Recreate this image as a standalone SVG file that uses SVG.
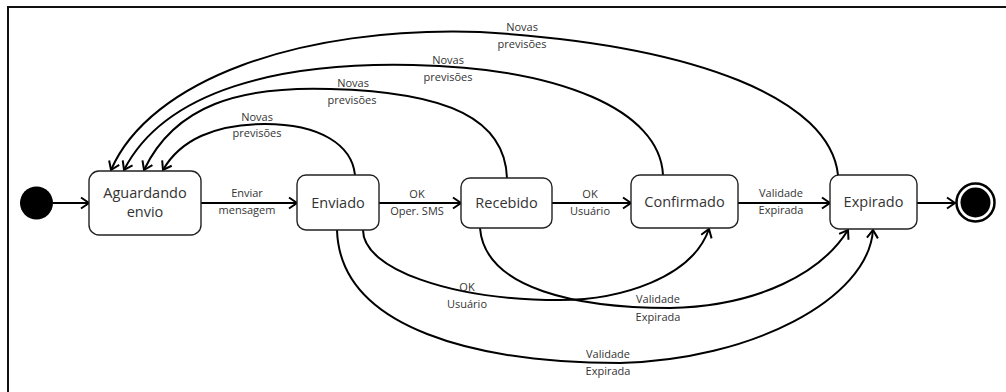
<svg xmlns="http://www.w3.org/2000/svg" width="1006" height="392" viewBox="0 0 1006 392">
  <defs>
    <marker id="open" viewBox="-10 -7 12 14" refX="0" refY="0" markerWidth="12" markerHeight="14" markerUnits="userSpaceOnUse" orient="auto">
      <path d="M-8,-5.5 L0,0 L-8,5.5" fill="none" stroke="#000" stroke-width="2" stroke-linejoin="miter"/>
    </marker>
    <style>
      .frame { fill: #fff; stroke: #111; stroke-width: 2; }
      .state { fill: #fff; stroke: #222; stroke-width: 1.4; }
      .name { font-family: "Open Sans", "Noto Sans", sans-serif; font-size: 14.5px; fill: #333; text-anchor: middle; }
      .edge { fill: none; stroke: #000; stroke-width: 2; marker-end: url(#open); }
      .lbl { font-family: "Open Sans", "Noto Sans", sans-serif; font-size: 11px; fill: #333; text-anchor: middle; }
    </style>
  </defs>

  <!-- frame -->
  <rect class="frame" x="8" y="7" width="1010" height="400"/>

  <!-- connectors -->
  <g id="connectors">
    <path class="edge" d="M53,203 L89,203"/>
    <path class="edge" d="M201,203 L297,203"/>
    <path class="edge" d="M379,203 L461,203"/>
    <path class="edge" d="M552,203 L631,203"/>
    <path class="edge" d="M738,203 L830,203"/>
    <path class="edge" d="M917,203 L955,203"/>

    <!-- Novas previsões: back to Aguardando envio -->
    <path class="edge" d="M355,175 C352,145 320,124 265,124 C215,124 180,140 163,170"/>
    <path class="edge" d="M507,178 C505,120 450,92 330,89 C240,86 175,105 144,170"/>
    <path class="edge" d="M663,175 C660,110 560,68 413,65 C280,62 165,90 124,170"/>
    <path class="edge" d="M838,175 C830,100 700,45 480,32 C300,26 150,80 111,170"/>

    <!-- lower transitions -->
    <path class="edge" d="M363,230 C363,269 451,300 560,300 C620,300 692,278 709,229"/>
    <path class="edge" d="M480,228 C485,290 580,308 670,308 C760,306 822,272 848,230"/>
    <path class="edge" d="M337,230 C340,330 480,363 620,363 C750,360 868,300 873,230"/>

    <!-- labels -->
    <text class="lbl" x="247" y="197">Enviar</text>
    <text class="lbl" x="247" y="214">mensagem</text>
    <text class="lbl" x="417" y="198">OK</text>
    <text class="lbl" x="417" y="215">Oper. SMS</text>
    <text class="lbl" x="590" y="198">OK</text>
    <text class="lbl" x="590" y="215">Usuário</text>
    <text class="lbl" x="781" y="197">Validade</text>
    <text class="lbl" x="781" y="214">Expirada</text>

    <text class="lbl" x="257" y="121">Novas</text>
    <text class="lbl" x="257" y="137">previsões</text>
    <text class="lbl" x="353" y="87">Novas</text>
    <text class="lbl" x="352" y="104">previsões</text>
    <text class="lbl" x="448" y="64">Novas</text>
    <text class="lbl" x="448" y="81">previsões</text>
    <text class="lbl" x="522" y="31">Novas</text>
    <text class="lbl" x="522" y="48">previsões</text>

    <text class="lbl" x="467" y="291">OK</text>
    <text class="lbl" x="467" y="308">Usuário</text>
    <text class="lbl" x="658" y="303">Validade</text>
    <text class="lbl" x="658" y="321">Expirada</text>
    <text class="lbl" x="608" y="358">Validade</text>
    <text class="lbl" x="608" y="375">Expirada</text>
  </g>

  <!-- states -->
  <g id="initial">
    <circle cx="36.5" cy="203" r="16.5" fill="#000"/>
  </g>
  <g id="aguardando">
    <rect class="state" x="89" y="171" width="112" height="64" rx="10"/>
    <text class="name" x="145" y="198">Aguardando</text>
    <text class="name" x="145" y="217">envio</text>
  </g>
  <g id="enviado">
    <rect class="state" x="297" y="175" width="82" height="55" rx="9"/>
    <text class="name" x="338" y="208">Enviado</text>
  </g>
  <g id="recebido">
    <rect class="state" x="461" y="178" width="91" height="50" rx="9"/>
    <text class="name" x="506.5" y="208">Recebido</text>
  </g>
  <g id="confirmado">
    <rect class="state" x="631" y="175" width="107" height="53" rx="9"/>
    <text class="name" x="684.5" y="207">Confirmado</text>
  </g>
  <g id="expirado">
    <rect class="state" x="830" y="175" width="87" height="54" rx="9"/>
    <text class="name" x="873.5" y="207">Expirado</text>
  </g>
  <g id="final">
    <circle cx="975.5" cy="202.5" r="19" fill="#fff" stroke="#000" stroke-width="2.5"/>
    <circle cx="975.5" cy="202.5" r="15" fill="#000"/>
  </g>
</svg>
